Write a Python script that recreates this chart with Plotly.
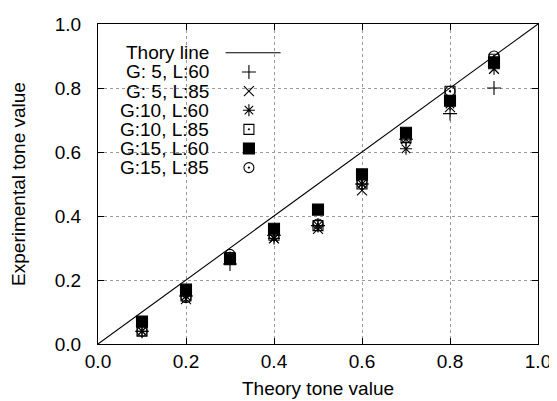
import plotly.graph_objects as go

# ---- data ----
theory_x = [0.0, 1.0]
theory_y = [0.0, 1.0]
tone_x = [0.1, 0.2, 0.3, 0.4, 0.5, 0.6, 0.7, 0.8, 0.9]
g5_l60 = [0.04, 0.15, 0.25, 0.34, 0.37, 0.50, 0.64, 0.72, 0.80]
g5_l85 = [0.04, 0.14, 0.27, 0.33, 0.36, 0.48, 0.64, 0.74, 0.86]
g10_l60 = [0.04, 0.15, 0.27, 0.33, 0.37, 0.50, 0.61, 0.75, 0.86]
g10_l85 = [0.04, 0.15, 0.27, 0.34, 0.37, 0.50, 0.645, 0.79, 0.89]
g15_l60 = [0.07, 0.17, 0.265, 0.36, 0.42, 0.53, 0.66, 0.76, 0.88]
g15_l85 = [0.04, 0.145, 0.28, 0.34, 0.375, 0.51, 0.645, 0.79, 0.90]
series_names = ["G: 5, L:60", "G: 5, L:85", "G:10, L:60", "G:10, L:85", "G:15, L:60", "G:15, L:85"]
series_values = [g5_l60, g5_l85, g10_l60, g10_l85, g15_l60, g15_l85]
tick_vals = [0.0, 0.2, 0.4, 0.6, 0.8, 1.0]
tick_text = ["0.0", "0.2", "0.4", "0.6", "0.8", "1.0"]

# ---- styles ----
FONT = "Liberation Sans, Arial, sans-serif"
FS = 19
symbols = ["cross-thin-open", "x-thin-open", "asterisk-open", "square-open-dot", "square", "circle-open-dot"]
sizes = [10, 10, 10, 10, 11, 10]

fig = go.Figure()

fig.add_trace(go.Scatter(x=theory_x, y=theory_y, mode="lines",
                         line=dict(color="black", width=1.1), showlegend=False, hoverinfo="skip"))

for name, vals, sym, sz in zip(series_names, series_values, symbols, sizes):
    fig.add_trace(go.Scatter(
        x=tone_x, y=vals, mode="markers", name=name, showlegend=False,
        marker=dict(symbol=sym, size=sz, color="black", line=dict(color="black", width=1.1))))

# ---- custom gnuplot-style key (text right aligned, sample to the right) ----
key_text_x = 0.257
key_sym_x = 0.343
key_line = (0.29, 0.415)
key_top = 0.91
key_step = 0.0598
shapes = [dict(type="rect", xref="paper", yref="paper", x0=0.015, x1=0.44, y0=0.50, y1=0.945,
               fillcolor="white", line=dict(width=0), layer="between")]
annotations = []
labels = ["Thory line"] + series_names
for i, lab in enumerate(labels):
    yy = key_top - i * key_step
    annotations.append(dict(x=key_text_x, y=yy, xref="paper", yref="paper", text=lab,
                            showarrow=False, xanchor="right", yanchor="middle",
                            font=dict(family=FONT, size=FS, color="black")))
    if i == 0:
        shapes.append(dict(type="line", xref="paper", yref="paper", x0=key_line[0], x1=key_line[1],
                           y0=yy, y1=yy, line=dict(color="black", width=1.1), layer="above"))
# key samples (layout positions, not data)
key_y = [key_top - (i + 1) * key_step for i in range(len(series_names))]
for i, (sym, sz) in enumerate(zip(symbols, sizes)):
    fig.add_trace(go.Scatter(x=[key_sym_x], y=[key_y[i]], mode="markers",
                             showlegend=False, hoverinfo="skip",
                             marker=dict(symbol=sym, size=sz, color="black", line=dict(color="black", width=1.1))))

axis_common = dict(range=[0, 1], tickvals=tick_vals, ticktext=tick_text, ticks="inside", ticklen=6,
                   tickcolor="black", tickwidth=1, showline=True, linecolor="black", linewidth=1.2,
                   mirror="ticks", showgrid=True, gridcolor="#9a9a9a", griddash="dot", gridwidth=1,
                   zeroline=False, automargin=False, tickfont=dict(family=FONT, size=FS, color="black"))

fig.update_layout(
    width=557, height=401, plot_bgcolor="white", paper_bgcolor="white",
    margin=dict(l=90, r=27, t=16, b=65),
    xaxis=dict(**axis_common, title=dict(text="Theory tone value", standoff=10,
                                         font=dict(family=FONT, size=FS, color="black"))),
    yaxis=dict(**axis_common, ticklabelstandoff=12,
               title=dict(text="Experimental tone value", standoff=25,
                          font=dict(family=FONT, size=FS, color="black"))),
    shapes=shapes, annotations=annotations, showlegend=False,
)

fig.write_html("out.html")
